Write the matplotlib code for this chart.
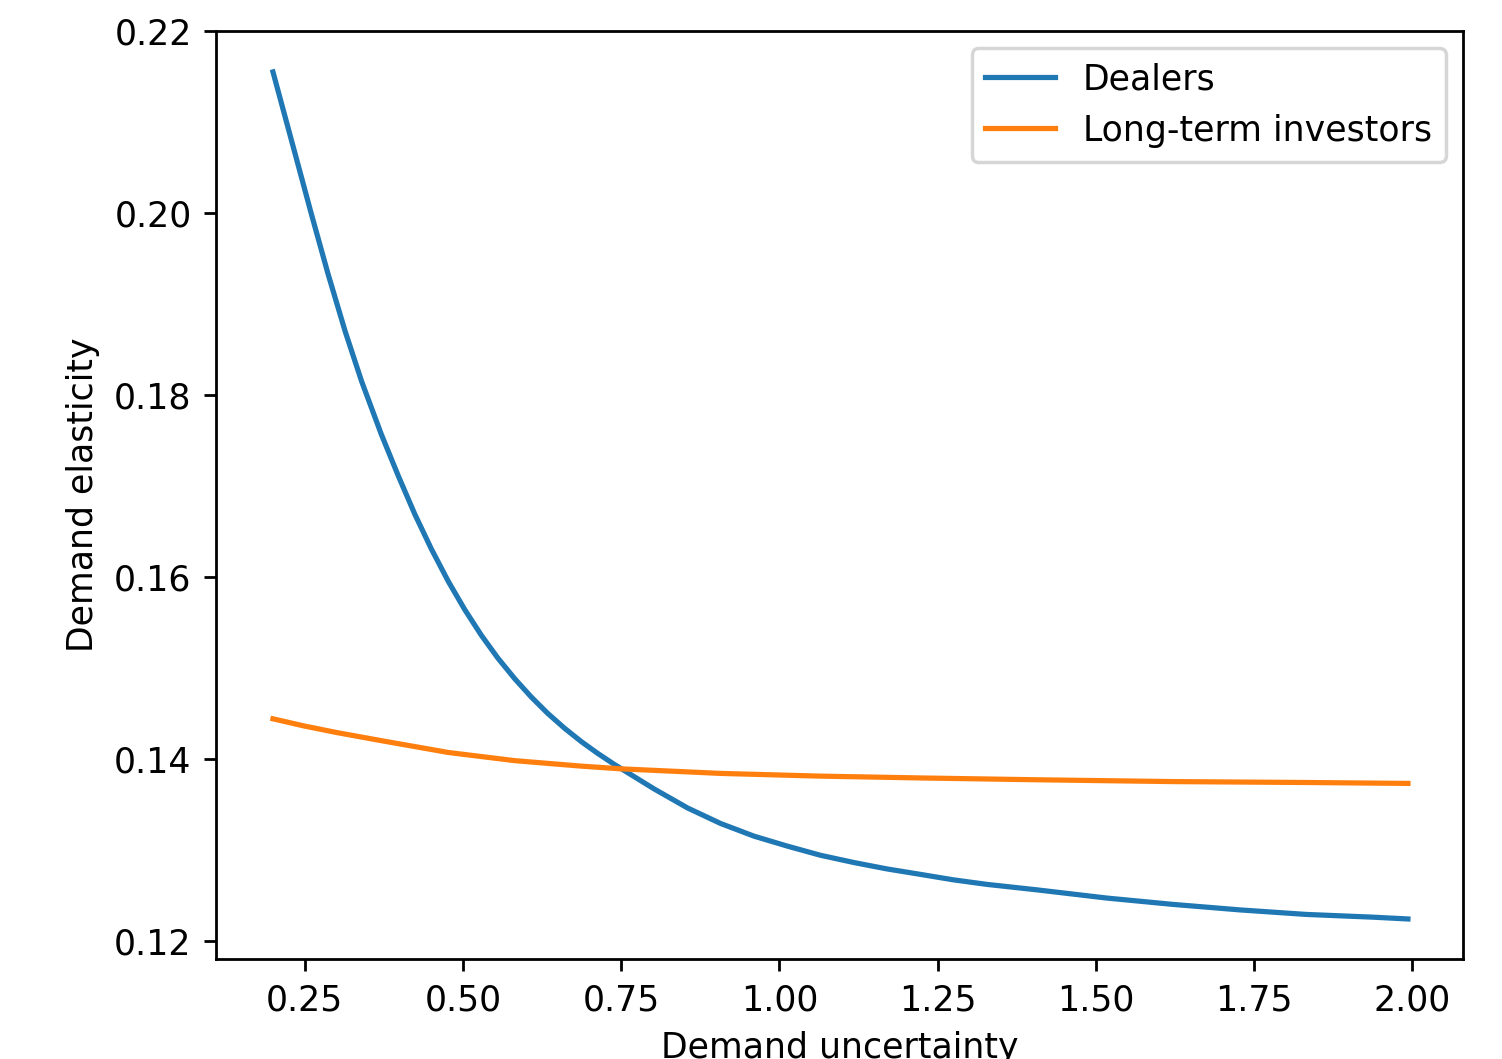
import matplotlib
matplotlib.use("Agg")
import matplotlib.pyplot as plt

# demand elasticity vs demand uncertainty
dealers_x = [0.200, 0.235, 0.261, 0.287, 0.314, 0.340, 0.371, 0.398, 0.424,
             0.450, 0.477, 0.503, 0.529, 0.555, 0.582, 0.608, 0.634, 0.660,
             0.687, 0.713, 0.739, 0.760, 0.781, 0.802, 0.855, 0.907, 0.960,
             1.013, 1.065, 1.118, 1.170, 1.223, 1.275, 1.328, 1.407, 1.517,
             1.622, 1.727, 1.832, 1.937, 1.993]
dealers_y = [0.2155, 0.2065, 0.1998, 0.1933, 0.1870, 0.1815, 0.1757, 0.1711,
             0.1669, 0.1631, 0.1595, 0.1564, 0.1536, 0.1511, 0.1488, 0.1468,
             0.1450, 0.1434, 0.1419, 0.1406, 0.1394, 0.1385, 0.1376, 0.1367,
             0.1346, 0.1329, 0.1315, 0.1304, 0.1294, 0.1286, 0.1279, 0.1273,
             0.1267, 0.1262, 0.1256, 0.1247, 0.1240, 0.1234, 0.1229, 0.1226,
             0.1224]

investors_x = [0.200, 0.250, 0.300, 0.371, 0.477, 0.582, 0.687, 0.750, 0.907,
               1.065, 1.223, 1.407, 1.622, 1.832, 1.993]
investors_y = [0.1444, 0.1436, 0.1429, 0.1420, 0.1407, 0.1398, 0.1392, 0.1389,
               0.1384, 0.1381, 0.1379, 0.1377, 0.1375, 0.1374, 0.1373]

W, H, DPI = 1502, 1059, 250
fig = plt.figure(figsize=(W / DPI, H / DPI), dpi=DPI)
ax = fig.add_axes([216 / W, (H - 959) / H, (1463 - 216) / W, (959 - 31) / H])

ax.plot(dealers_x, dealers_y, label="Dealers")
ax.plot(investors_x, investors_y, label="Long-term investors")

ax.set_xlim(0.11, 2.08)
ax.set_ylim(0.118, 0.22)
ax.set_xticks([0.25, 0.5, 0.75, 1.0, 1.25, 1.5, 1.75, 2.0])
ax.set_yticks([0.12, 0.14, 0.16, 0.18, 0.20, 0.22])
ax.set_xlabel("Demand uncertainty")
ax.set_ylabel("Demand elasticity")
ax.legend(loc="upper right")

fig.savefig("out.png", dpi=DPI)
